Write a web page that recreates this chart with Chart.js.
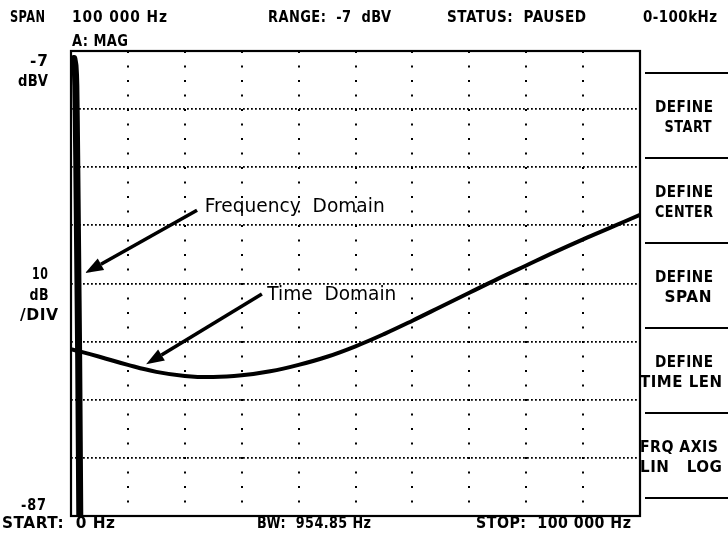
<!DOCTYPE html>
<html lang="en">
<head>
<meta charset="UTF-8">
<title>SPAN 100 000 Hz</title>
<script src="https://cdn.jsdelivr.net/npm/chart.js"></script>
<style>
    html, body { margin: 0; padding: 0; background: #ffffff; }
    #wrap { width: 728px; height: 537px; position: relative; }
</style>
</head>
<body>
<div id="wrap"><canvas id="chart" width="728" height="537"></canvas></div>
<script>
// frequency domain trace: a narrow line right at 0 Hz (Hz, dBV)
const freqHz  = [500, 700, 850, 1000, 1150, 1350, 1550];
const freqDbv = [-8.3, -9.5, -13, -25, -40, -60, -88];

// time domain trace drawn across the same display
const timeHz  = [0, 5000, 10000, 15000, 20000, 25000, 30000, 35000, 40000, 45000, 50000,
                 55000, 60000, 65000, 70000, 75000, 80000, 85000, 90000, 95000, 100000];
const timeDbv = [-58.3, -59.6, -61.0, -62.2, -62.9, -63.1, -62.8, -62.1, -61.0, -59.6, -57.8,
                 -55.7, -53.4, -51.0, -48.6, -46.2, -43.9, -41.6, -39.4, -37.3, -35.2];

// axis range
const xMin = 0, xMax = 100000, xStep = 10000;
const yTop = -7, yBottom = -87, yStep = 10;

// annotations (text + arrow), anchored in data units
const noteText   = ['Frequency  Domain', 'Time  Domain'];
const noteHz     = [23500, 34500];
const noteDbv    = [-33.8, -48.9];
const arrowFromHz  = [22150, 33550];
const arrowFromDbv = [-34.4, -48.8];
const arrowToHz    = [2500, 13200];
const arrowToDbv   = [-45.2, -60.9];

// softkey menu
const softkeys = [['DEFINE', 'START'], ['DEFINE', 'CENTER'], ['DEFINE', 'SPAN'], ['DEFINE', 'TIME LEN'], ['FRQ AXIS', 'LIN   LOG']];
const keyW = [[58, 47], [58, 58], [58, 47], [58, 82], [78, 82]];
const keyX = [[684, 688], [684, 684], [684, 688], [684, 681], [679, 681]];

const INK = '#000000';
const UI_FONT = 'bold 15px "DejaVu Sans"';

// draw a string squeezed/stretched to a given width (instrument font)
function fitText(ctx, str, x, y, w, align, spacing) {
    ctx.letterSpacing = (spacing || 0) + 'px';
    const natural = ctx.measureText(str).width - (spacing || 0);
    const sx = w / natural;
    let left = x;
    if (align === 'right') left = x - w;
    if (align === 'center') left = x - w / 2;
    ctx.save();
    ctx.textAlign = 'left';
    ctx.translate(left, y);
    ctx.scale(sx, 1);
    ctx.fillText(str, 0, 0);
    ctx.restore();
    ctx.letterSpacing = '0px';
}

function arrow(ctx, x1, y1, x2, y2) {
    const ang = Math.atan2(y2 - y1, x2 - x1);
    const head = 18, half = 6.5;
    const bx = x2 - head * Math.cos(ang), by = y2 - head * Math.sin(ang);
    ctx.lineWidth = 3.6;
    ctx.beginPath();
    ctx.moveTo(x1, y1);
    ctx.lineTo(bx, by);
    ctx.stroke();
    ctx.beginPath();
    ctx.moveTo(x2, y2);
    ctx.lineTo(bx + half * Math.sin(ang), by - half * Math.cos(ang));
    ctx.lineTo(bx - half * Math.sin(ang), by + half * Math.cos(ang));
    ctx.closePath();
    ctx.fill();
}

const screenPlugin = {
    id: 'screen',
    afterDraw(chart) {
        const ctx = chart.ctx;
        const a = chart.chartArea;
        const xs = chart.scales.x, ys = chart.scales.y;
        ctx.save();
        ctx.fillStyle = INK;
        ctx.strokeStyle = INK;

        // box
        ctx.lineWidth = 2.2;
        ctx.strokeRect(a.left, a.top, a.right - a.left, a.bottom - a.top);

        // header
        ctx.font = UI_FONT;
        ctx.textBaseline = 'middle';
        fitText(ctx, 'SPAN', 10, 18, 35, 'left', 0.5);
        fitText(ctx, '100 000 Hz', 72, 18, 95, 'left', 1);
        fitText(ctx, 'A: MAG', 72, 42, 56, 'left', 0.5);
        fitText(ctx, 'RANGE:  -7  dBV', 268, 18, 123, 'left', 0.5);
        fitText(ctx, 'STATUS:  PAUSED', 447, 18, 139, 'left', 0.5);
        fitText(ctx, '0-100kHz', 643, 18, 74, 'left', 0.5);

        // left labels
        fitText(ctx, String(yTop), 48, 62, 18, 'right', 1);
        fitText(ctx, 'dBV', 48, 82, 30, 'right', 0.5);
        fitText(ctx, String(yStep), 40, 275, 16, 'center', 1);
        fitText(ctx, 'dB', 39, 296, 19, 'center', 0.5);
        fitText(ctx, '/DIV', 39, 316, 38, 'center', 0.5);
        fitText(ctx, String(yBottom), 46, 506, 25, 'right', 1);

        // footer
        fitText(ctx, 'START:  0 Hz', 2, 524, 113, 'left', 0.5);
        fitText(ctx, 'BW:  954.85 Hz', 257, 524, 114, 'left', 0.5);
        fitText(ctx, 'STOP:  100 000 Hz', 476, 524, 155, 'left', 0.5);

        // softkeys
        const keyTop = 73, keyH = 85;
        ctx.lineWidth = 2.2;
        for (let i = 0; i <= softkeys.length; i++) {
            const y = keyTop + i * keyH;
            ctx.beginPath();
            ctx.moveTo(645, y);
            ctx.lineTo(728, y);
            ctx.stroke();
        }
        softkeys.forEach((k, i) => {
            const y = keyTop + i * keyH;
            fitText(ctx, k[0], keyX[i][0], y + 35, keyW[i][0], 'center', 0.5);
            fitText(ctx, k[1], keyX[i][1], y + 55, keyW[i][1], 'center', 0.5);
        });

        // annotations
        ctx.font = '20px "DejaVu Sans"';
        const noteW = [180, 129];
        noteText.forEach((t, i) => {
            fitText(ctx, t, xs.getPixelForValue(noteHz[i]), ys.getPixelForValue(noteDbv[i]), noteW[i], 'left', 0);
        });
        noteText.forEach((t, i) => {
            arrow(ctx,
                xs.getPixelForValue(arrowFromHz[i]), ys.getPixelForValue(arrowFromDbv[i]),
                xs.getPixelForValue(arrowToHz[i]), ys.getPixelForValue(arrowToDbv[i]));
        });
        ctx.restore();
    }
};

new Chart(document.getElementById('chart'), {
    type: 'scatter',
    data: {
        datasets: [
            {
                label: 'Frequency Domain',
                data: freqHz.map((x, i) => ({ x: x, y: freqDbv[i] })),
                showLine: true,
                borderColor: INK,
                borderWidth: 7,
                borderCapStyle: 'round',
                pointRadius: 0,
                tension: 0.2,
                clip: { left: 8, top: 8, right: 0, bottom: 0 }
            },
            {
                label: 'Time Domain',
                data: timeHz.map((x, i) => ({ x: x, y: timeDbv[i] })),
                showLine: true,
                borderColor: INK,
                borderWidth: 4,
                pointRadius: 0,
                tension: 0.4
            }
        ]
    },
    options: {
        responsive: false,
        animation: false,
        layout: { padding: { left: 71, top: 51, right: 88, bottom: 21 } },
        plugins: {
            legend: { display: false },
            tooltip: { enabled: false }
        },
        scales: {
            x: {
                type: 'linear',
                min: xMin,
                max: xMax,
                ticks: { display: false, stepSize: xStep },
                grid: { color: INK, lineWidth: 2, drawTicks: false },
                border: { display: false, dash: [2, 12.5] }
            },
            y: {
                type: 'linear',
                min: yBottom,
                max: yTop,
                ticks: { display: false, stepSize: yStep },
                grid: { color: INK, lineWidth: 1.8, drawTicks: false },
                border: { display: false, dash: [1.8, 2.2] }
            }
        }
    },
    plugins: [screenPlugin]
});
</script>
</body>
</html>
